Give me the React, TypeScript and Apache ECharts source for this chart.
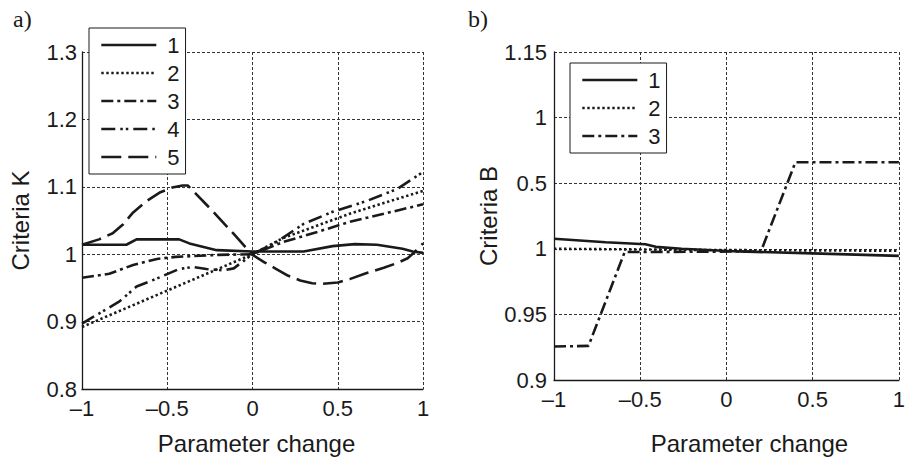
import React, { useEffect, useRef } from "react";
import * as echarts from "echarts";

// ---- tick labels ----
const X_TICKS = ["–1", "–0.5", "0", "0.5", "1"];
const K_TICKS = ["0.8", "0.9", "1", "1.1", "1.2", "1.3"];
const B_TICKS = ["0.9", "0.95", "1", "0.5", "1", "1.15"];

// ---- panel a) Criteria K ----
const K1_X = [-1, -0.74, -0.68, -0.43, -0.37, -0.21, 0, 0.3, 0.47, 0.6, 0.73, 0.88, 0.94, 1];
const K1_Y = [1.014, 1.014, 1.022, 1.022, 1.016, 1.006, 1.004, 1.004, 1.012, 1.015, 1.014, 1.008, 1.004, 1.002];

const K2_X = [-1, -0.5, 0, 0.18, 0.57, 1];
const K2_Y = [0.892, 0.946, 1.0, 1.024, 1.06, 1.094];

const K3_X = [-1, -0.84, -0.7, -0.56, -0.45, -0.2, 0, 0.18, 0.38, 0.57, 0.77, 1];
const K3_Y = [0.965, 0.971, 0.984, 0.993, 0.996, 0.999, 1.0, 1.018, 1.033, 1.048, 1.06, 1.074];

const K4_X = [-1, -0.9, -0.78, -0.68, -0.56, -0.43, -0.35, -0.27, -0.17, -0.11, 0, 0.14, 0.3, 0.47, 0.67, 0.85, 1];
const K4_Y = [0.897, 0.912, 0.93, 0.952, 0.964, 0.978, 0.981, 0.978, 0.976, 0.979, 1.0, 1.018, 1.045, 1.063, 1.079, 1.097, 1.122];

const K5_X = [-1, -0.9, -0.82, -0.76, -0.7, -0.62, -0.54, -0.47, -0.41, -0.38, -0.23, -0.11, 0, 0.07, 0.14, 0.21, 0.28, 0.35, 0.41, 0.5, 0.57, 0.67, 0.77, 0.85, 0.91, 0.95, 1];
const K5_Y = [1.014, 1.022, 1.031, 1.044, 1.062, 1.079, 1.092, 1.099, 1.102, 1.102, 1.063, 1.03, 0.999, 0.988, 0.978, 0.968, 0.961, 0.957, 0.956, 0.958, 0.963, 0.972, 0.98, 0.987, 0.994, 1.003, 1.016];

// ---- panel b) Criteria B ----
const B1_X = [-1, -0.7, -0.47, -0.41, -0.26, 0.07, 0.5, 1];
const B1_Y = [1.0077, 1.005, 1.0035, 1.0015, 1.0, 0.998, 0.9965, 0.9946];

const B2_X = [-1, -0.5, 0, 0.5, 1];
const B2_Y = [1.0, 0.9995, 0.999, 0.9988, 0.9985];

const B3_X = [-1, -0.8, -0.59, 0.2, 0.4, 1];
const B3_Y = [0.9255, 0.926, 0.9975, 0.998, 1.066, 1.066];

const LEGEND_K = ["1", "2", "3", "4", "5"];
const LEGEND_B = ["1", "2", "3"];

const FONT = "'Liberation Sans', Arial, Helvetica, sans-serif";
const INK = "#1a1a1a";

const DASHES: any[] = ["solid", [2.4, 2.6], [12, 4, 3, 4], [14, 5, 2.5, 3, 2.5, 5], [20, 7]];

const pairs = (xs: number[], ys: number[]) => xs.map((x, i) => [x, ys[i]]);

export default function App() {
  const ref = useRef<HTMLDivElement>(null);
  useEffect(() => {
    if (!ref.current) return;
    const chart = echarts.init(ref.current, undefined, { renderer: "svg" });

    const splitLine = { show: true, lineStyle: { color: "#333", width: 1, type: [3, 2] as any } };
    const axisLine = { show: true, onZero: false, lineStyle: { color: INK, width: 1.3 } };
    const labelStyle = { color: INK, fontSize: 22, fontFamily: FONT };
    const nameStyle = { color: INK, fontSize: 24, fontFamily: FONT };

    const xAxisBase = (gridIndex: number, gap: number, padLeft: number) => ({
      type: "value",
      gridIndex,
      min: -1,
      max: 1,
      interval: 0.5,
      name: "Parameter change",
      nameLocation: "middle",
      nameGap: gap,
      nameTextStyle: { ...nameStyle, padding: [0, 0, 0, padLeft] },
      axisLine,
      axisTick: { show: false },
      splitLine,
      axisLabel: {
        ...labelStyle,
        margin: 8,
        formatter: (v: number) => X_TICKS[Math.round((v + 1) / 0.5)] ?? "",
      },
    });

    const seriesK = [K1_X, K2_X, K3_X, K4_X, K5_X].map((xs, i) => ({
      type: "line",
      name: LEGEND_K[i],
      xAxisIndex: 0,
      yAxisIndex: 0,
      symbol: "none",
      data: pairs(xs, [K1_Y, K2_Y, K3_Y, K4_Y, K5_Y][i]),
      lineStyle: { color: INK, width: 2.6, type: DASHES[i] },
      itemStyle: { color: INK },
    }));
    const seriesB = [B1_X, B2_X, B3_X].map((xs, i) => ({
      type: "line",
      name: LEGEND_B[i],
      xAxisIndex: 1,
      yAxisIndex: 1,
      symbol: "none",
      data: pairs(xs, [B1_Y, B2_Y, B3_Y][i]),
      lineStyle: { color: INK, width: 2.6, type: DASHES[i] },
      itemStyle: { color: INK },
    }));

    const legendBase = {
      orient: "vertical",
      itemWidth: 55,
      itemHeight: 14,
      itemGap: 6,
      borderColor: INK,
      borderWidth: 1,
      backgroundColor: "#fff",
      padding: [6, 6, 6, 11],
      itemStyle: { opacity: 0 },
      lineStyle: { width: 2.6 },
      textStyle: { color: INK, fontSize: 22, fontFamily: FONT, padding: [0, 0, 0, 6] },
      selectedMode: false,
    };

    chart.setOption({
      animation: false,
      backgroundColor: "#fff",
      title: [
        { text: "a)", left: 8, top: 2, textStyle: { fontFamily: "'Liberation Serif', 'Times New Roman', serif", fontSize: 24, fontWeight: "normal", color: INK } },
        { text: "b)", left: 463, top: 2, textStyle: { fontFamily: "'Liberation Serif', 'Times New Roman', serif", fontSize: 24, fontWeight: "normal", color: INK } },
      ],
      grid: [
        { left: 82, right: 485, top: 52, bottom: 70 },
        { left: 554, right: 6, top: 52, bottom: 70 },
      ],
      legend: [
        { ...legendBase, data: LEGEND_K, left: 89, top: 28 },
        { ...legendBase, data: LEGEND_B, left: 570, top: 63 },
      ],
      xAxis: [xAxisBase(0, 42, 8), xAxisBase(1, 51, 46)],
      yAxis: [
        {
          type: "value",
          gridIndex: 0,
          min: 0.8,
          max: 1.3,
          interval: 0.1,
          name: "Criteria K",
          nameLocation: "middle",
          nameGap: 50,
          nameTextStyle: nameStyle,
          axisLine,
          axisTick: { show: false },
          splitLine,
          axisLabel: {
            ...labelStyle,
            margin: 5,
            formatter: (v: number) => K_TICKS[Math.round((v - 0.8) / 0.1)] ?? "",
          },
        },
        {
          type: "value",
          gridIndex: 1,
          min: 0.9,
          max: 1.15,
          interval: 0.05,
          name: "Criteria B",
          nameLocation: "middle",
          nameGap: 37,
          nameTextStyle: nameStyle,
          axisLine,
          axisTick: { show: false },
          splitLine,
          axisLabel: {
            ...labelStyle,
            margin: 7,
            formatter: (v: number) => B_TICKS[Math.round((v - 0.9) / 0.05)] ?? "",
          },
        },
      ],
      series: [...seriesK, ...seriesB],
    });
    return () => chart.dispose();
  }, []);
  return (
    <div
      ref={ref}
      style={{ position: "absolute", left: 0, top: 0, width: 908, height: 460, background: "#fff" }}
    />
  );
}
